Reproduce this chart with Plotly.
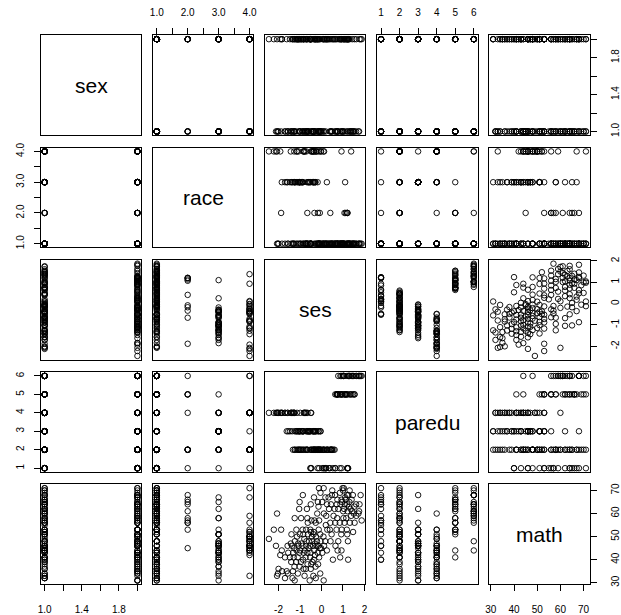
import plotly.graph_objects as go

# ---- data: one row per student -------------------------------------------
sex = [
    2, 1, 1, 2, 2, 1, 2, 1, 2, 1,
    1, 2, 2, 1, 2, 2, 1, 1, 2, 1,
    1, 2, 2, 1, 2, 1, 1, 2, 1, 2,
    2, 1, 2, 1, 1, 2, 2, 1, 2, 1,
    2, 1, 1, 2, 1, 2, 2, 1, 2, 1,
    2, 2, 1, 1, 2, 1, 2, 1, 1, 2,
    1, 2, 1, 2, 2, 1, 1, 2, 2, 1,
    2, 1, 2, 2, 1, 1, 2, 1, 2, 2,
    2, 1, 2, 1, 1, 2, 2, 1, 2, 1,
    1, 2, 1, 2, 2, 1, 2, 2, 1, 1,
    1, 2, 2, 1, 2, 1, 2, 2, 1, 1,
    2, 1, 2, 1, 2, 2, 1, 2, 1, 2,
    2, 1, 1, 2, 1, 2, 1, 2, 2, 1,
    2, 1, 1, 2, 2, 1, 2, 1, 2, 1,
    1, 2, 1, 2, 2, 1, 2, 1, 2, 2,
    1, 1, 2, 1, 2, 1, 2, 2, 1, 2,
    2, 1, 2, 1, 2, 2, 1, 2, 1, 1,
    2, 1, 2, 2, 1, 2, 1, 2, 1, 2,
    1, 2, 2, 1, 2, 1, 1, 2, 2, 1,
    2, 1, 2, 2, 1, 2, 1, 1, 2, 2,
]

race = [
    4, 1, 1, 1, 1, 1, 1, 1, 1, 2,
    1, 1, 1, 4, 1, 1, 1, 1, 2, 1,
    3, 1, 2, 1, 1, 1, 1, 1, 1, 1,
    1, 1, 1, 3, 1, 1, 1, 1, 1, 2,
    1, 1, 1, 1, 3, 3, 2, 1, 2, 1,
    1, 1, 1, 1, 1, 4, 1, 1, 1, 4,
    1, 2, 1, 1, 2, 1, 1, 1, 4, 2,
    1, 3, 1, 1, 4, 1, 1, 1, 1, 1,
    1, 1, 4, 3, 3, 4, 3, 4, 3, 4,
    1, 4, 1, 1, 1, 4, 3, 3, 4, 3,
    4, 3, 4, 4, 1, 1, 1, 1, 4, 3,
    3, 4, 4, 3, 4, 3, 4, 1, 2, 4,
    3, 1, 4, 3, 1, 3, 4, 3, 4, 1,
    3, 1, 3, 1, 4, 3, 3, 1, 1, 3,
    1, 1, 3, 1, 1, 1, 1, 1, 3, 1,
    1, 3, 1, 1, 3, 1, 1, 3, 1, 3,
    1, 1, 1, 1, 3, 1, 3, 1, 4, 1,
    3, 1, 1, 3, 3, 4, 1, 4, 4, 3,
    4, 3, 1, 1, 1, 1, 1, 1, 2, 1,
    1, 1, 1, 1, 1, 1, 1, 1, 1, 1,
]

ses = [
    -0.12, 0.10, 0.98, 1.04, 1.31, -0.05, 0.48, 0.63, 0.86, 1.19,
    1.46, 1.82, -0.87, -0.35, 0.18, 0.33, 0.74, 0.93, 1.13, 1.30,
    -1.02, -0.50, -0.17, 0.03, 0.26, 0.44, 0.71, 0.88, 1.08, 1.27,
    1.53, 1.61, 1.77, -0.68, -0.14, 0.35, 0.61, 0.78, 1.01, 1.21,
    1.43, 1.75, -1.04, -2.07, -1.25, -0.95, -0.66, -0.47, -0.33, 0.11,
    0.22, 0.56, 0.73, 1.02, 1.15, 1.38, 1.62, 1.72, -0.64, -0.27,
    -0.11, 0.41, 0.64, 0.85, 1.07, 1.32, 1.54, 1.87, -2.22, -1.88,
    -1.17, -0.88, -0.72, -0.52, -0.36, -0.13, 0.27, 0.39, 0.70, 0.94,
    1.18, 1.47, -2.45, -1.40, -1.01, -0.85, -0.63, -0.49, -0.37, -0.26,
    -0.06, 0.09, 0.47, 0.92, 1.20, -1.43, -1.24, -1.09, -0.80, -0.58,
    -0.43, -0.31, -0.21, -0.04, 0.17, 0.42, 0.78, 1.23, -2.12, -1.58,
    -1.37, -1.27, -1.07, -0.89, -0.71, -0.54, -0.39, -0.23, -0.08, 0.12,
    0.25, 0.75, 0.93, -1.85, -1.55, -1.32, -1.16, -1.03, -0.83, -0.66,
    -0.51, -0.34, -0.18, 0.04, -1.92, -1.70, -1.47, -1.29, -1.11, -0.86,
    -0.74, -0.53, -0.36, -0.11, 0.53, 0.87, 1.24, -1.41, -1.18, -0.96,
    -0.65, -0.42, -0.16, -1.26, -1.02, -0.73, -0.50, -0.28, -2.00, -1.62,
    -1.33, -2.03, -1.84, -1.57, -1.10, -0.79, -0.38, -0.06, -2.07, -1.70,
    -1.25, -0.27, 0.10, -0.94, -0.60, -0.45, -0.15, -1.14, -0.78, -0.30,
    -0.02, 1.10, 1.25, 1.40, 1.05, 1.35, 1.50, 0.95, 1.20, 1.00,
    -0.70, -0.99, -0.48, -0.84, 0.20, -0.20, 0.50, -1.35, -0.55, 0.65,
]

paredu = [
    2, 1, 5, 6, 5, 2, 2, 1, 5, 6,
    6, 6, 3, 2, 1, 2, 5, 1, 5, 6,
    2, 1, 2, 1, 2, 2, 5, 6, 5, 6,
    5, 6, 6, 3, 2, 1, 2, 5, 6, 5,
    6, 6, 2, 4, 2, 2, 2, 1, 2, 2,
    1, 2, 5, 6, 5, 6, 6, 6, 3, 2,
    1, 2, 5, 1, 5, 6, 5, 6, 4, 4,
    3, 2, 3, 1, 2, 3, 2, 1, 5, 5,
    5, 5, 4, 4, 3, 2, 3, 2, 3, 2,
    3, 2, 2, 5, 1, 4, 2, 3, 4, 3,
    2, 3, 2, 3, 2, 2, 6, 1, 4, 4,
    3, 4, 2, 3, 4, 3, 2, 3, 2, 1,
    2, 5, 6, 4, 3, 4, 2, 3, 4, 2,
    3, 2, 1, 2, 4, 4, 3, 4, 2, 3,
    4, 2, 3, 2, 1, 5, 1, 4, 3, 2,
    4, 3, 2, 4, 3, 2, 4, 3, 4, 3,
    2, 4, 4, 4, 3, 2, 3, 2, 4, 4,
    3, 2, 2, 3, 3, 2, 3, 4, 4, 3,
    2, 5, 6, 5, 6, 5, 6, 5, 1, 6,
    2, 4, 4, 3, 1, 2, 2, 4, 3, 1,
]

math = [
    71, 71, 71, 71, 70, 69, 68, 68, 69, 68,
    68, 68, 68, 67, 67, 67, 66, 66, 66, 65,
    65, 64, 65, 65, 64, 64, 64, 64, 64, 63,
    63, 64, 64, 62, 63, 62, 62, 62, 61, 61,
    61, 61, 62, 60, 58, 58, 58, 57, 57, 60,
    59, 59, 58, 58, 58, 59, 59, 60, 56, 56,
    57, 56, 56, 56, 56, 56, 56, 57, 53, 53,
    53, 53, 53, 53, 52, 53, 53, 53, 53, 53,
    53, 52, 49, 51, 51, 51, 51, 52, 51, 50,
    51, 50, 51, 51, 51, 47, 48, 47, 49, 48,
    48, 47, 48, 48, 48, 48, 48, 48, 46, 46,
    46, 45, 46, 46, 46, 46, 46, 46, 45, 46,
    44, 44, 44, 44, 43, 43, 44, 43, 43, 43,
    43, 44, 43, 43, 42, 41, 41, 41, 41, 40,
    41, 41, 40, 41, 40, 41, 40, 39, 39, 39,
    38, 39, 38, 37, 37, 36, 36, 37, 36, 35,
    35, 34, 35, 34, 34, 33, 33, 34, 33, 32,
    31, 32, 31, 47, 45, 50, 46, 50, 44, 42,
    45, 67, 68, 66, 62, 62, 60, 65, 64, 70,
    48, 44, 38, 36, 55, 60, 70, 32, 31, 46,
]

var_names = ["sex", "race", "ses", "paredu", "math"]
columns = [sex, race, ses, paredu, math]

# tick positions and labels for each variable (blank text = unlabeled tick)
tick_vals = [
    [1.0, 1.2, 1.4, 1.6, 1.8, 2.0],
    [1.0, 1.5, 2.0, 2.5, 3.0, 3.5, 4.0],
    [-2, -1, 0, 1, 2],
    [1, 2, 3, 4, 5, 6],
    [30, 40, 50, 60, 70],
]
tick_text = [
    ["1.0", "", "1.4", "", "1.8", ""],
    ["1.0", "", "2.0", "", "3.0", "", "4.0"],
    ["-2", "-1", "0", "1", "2"],
    ["1", "2", "3", "4", "5", "6"],
    ["30", "40", "50", "60", "70"],
]

# ---- layout geometry (pixels) ---------------------------------------------
W, H = 621, 615
N = len(var_names)
LEFT0, TOP0 = 37.6, 31.0
PITCH_X, PITCH_Y = 114.15, 114.1
PANEL_W, PANEL_H = 102.0, 101.3

FONT = "Liberation Sans, Arial, Helvetica, sans-serif"
tick_font = dict(family=FONT, size=10, color="black")


def padded_range(values):
    lo, hi = min(values), max(values)
    pad = 0.04 * (hi - lo)
    return [lo - pad, hi + pad]


ranges = [padded_range(c) for c in columns]

fig = go.Figure()
layout_axes = {}
annotations = []

for i in range(N):          # row -> y variable
    for j in range(N):      # column -> x variable
        k = i * N + j + 1
        sfx = "" if k == 1 else str(k)
        x0 = LEFT0 + j * PITCH_X
        x1 = x0 + PANEL_W
        y0 = TOP0 + i * PITCH_Y
        y1 = y0 + PANEL_H

        base = dict(
            showgrid=False, zeroline=False, showline=True, mirror=True,
            linecolor="black", linewidth=1, ticks="", showticklabels=False,
            fixedrange=True, autorange=False,
        )
        xa = dict(base, domain=[x0 / W, x1 / W], range=ranges[j], anchor="y" + sfx)
        ya = dict(base, domain=[1 - y1 / H, 1 - y0 / H], range=ranges[i], anchor="x" + sfx)

        tick_common = dict(
            ticks="outside", ticklen=6, tickwidth=1, tickcolor="black",
            showticklabels=True, tickfont=tick_font, tickmode="array",
        )
        # R-style alternating axes around the matrix
        if i == 0 and j % 2 == 1:
            xa.update(tick_common, side="top", tickvals=tick_vals[j],
                      ticktext=tick_text[j], ticklabelstandoff=8)
        if i == N - 1 and j % 2 == 0:
            xa.update(tick_common, side="bottom", tickvals=tick_vals[j],
                      ticktext=tick_text[j], ticklabelstandoff=10)
        if j == 0 and i % 2 == 1:
            ya.update(tick_common, side="left", tickvals=tick_vals[i],
                      ticktext=tick_text[i], tickangle=-90, ticklabelstandoff=6)
        if j == N - 1 and i % 2 == 0:
            ya.update(tick_common, side="right", tickvals=tick_vals[i],
                      ticktext=tick_text[i], tickangle=-90, ticklabelstandoff=10)

        layout_axes["xaxis" + sfx] = xa
        layout_axes["yaxis" + sfx] = ya

        if i == j:
            # empty trace so the diagonal panel (box + axes) is created
            fig.add_trace(go.Scatter(
                x=[], y=[], mode="markers", xaxis="x" + sfx, yaxis="y" + sfx,
                hoverinfo="skip", showlegend=False,
            ))
            annotations.append(dict(
                text=var_names[i], x=0.5, y=0.5,
                xref=f"x{sfx} domain", yref=f"y{sfx} domain",
                showarrow=False, xanchor="center", yanchor="middle",
                font=dict(family=FONT, size=21, color="black"),
            ))
        else:
            fig.add_trace(go.Scatter(
                x=columns[j], y=columns[i], mode="markers",
                xaxis="x" + sfx, yaxis="y" + sfx,
                marker=dict(symbol="circle-open", size=5.5, color="black",
                            line=dict(width=0.9, color="black")),
                hoverinfo="skip", showlegend=False,
            ))

fig.update_layout(
    width=W, height=H,
    margin=dict(l=0, r=0, t=0, b=0),
    paper_bgcolor="white", plot_bgcolor="white",
    showlegend=False,
    annotations=annotations,
    **layout_axes,
)

fig.write_html("out.html")
